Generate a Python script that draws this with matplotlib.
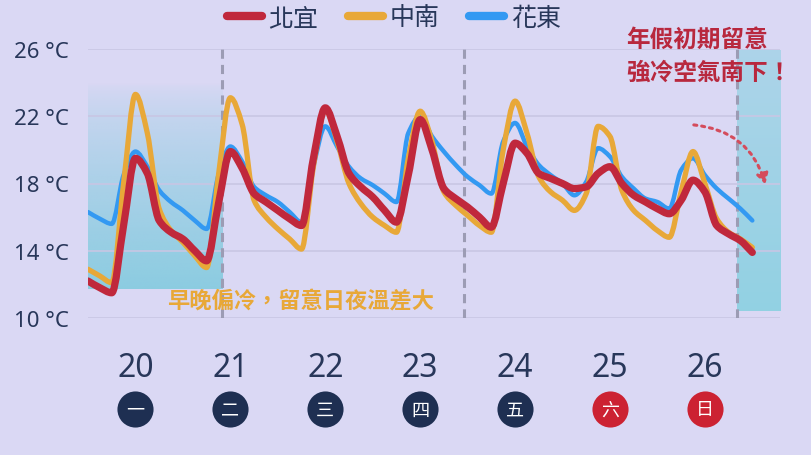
import numpy as np
import matplotlib
matplotlib.use("Agg")
import matplotlib.pyplot as plt
from matplotlib.path import Path
from matplotlib.patches import PathPatch
from matplotlib.lines import Line2D
from matplotlib.transforms import blended_transform_factory

plt.rcParams['font.family'] = ['Noto Sans CJK TC', 'DejaVu Sans']

# 3-hourly temperatures from 1/20 00:00 to 1/27 00:00
hours = np.arange(0, 169, 3)
beiyi = [12.2, 11.8, 11.5, 15.5, 19.5, 18.6, 15.8, 15.1, 14.7, 14.0, 13.4,
         16.8, 19.9, 18.9, 17.4, 16.9, 16.4, 15.9, 15.5, 19.5, 22.5, 20.8,
         18.6, 17.8, 17.2, 16.4, 15.7, 18.5, 21.8, 20.0, 17.7, 17.1, 16.6,
         16.0, 15.4, 18.0, 20.4, 19.8, 18.6, 18.3, 18.0, 17.7, 17.8, 18.6,
         19.0, 18.0, 17.3, 16.9, 16.5, 16.2, 17.0, 18.2, 17.5, 15.5, 15.0,
         14.6, 13.9]
zhongnan = [12.9, 12.5, 12.1, 18.0, 23.3, 21.0, 16.5, 15.2, 14.5, 13.7, 13.0,
            18.5, 23.1, 21.5, 17.0, 16.0, 15.3, 14.7, 14.1, 19.0, 22.4, 20.5,
            18.0, 16.8, 16.0, 15.5, 15.1, 19.5, 22.3, 20.5, 17.5, 16.7, 16.1,
            15.5, 15.1, 20.0, 22.9, 21.0, 18.4, 17.5, 17.0, 16.4, 17.4, 21.4,
            20.8, 17.6, 16.4, 15.8, 15.2, 14.8, 17.5, 19.9, 18.0, 15.9, 15.1,
            14.7, 14.2]
huadong = [16.3, 15.9, 15.6, 18.5, 19.9, 19.0, 17.6, 16.9, 16.4, 15.8, 15.3,
           18.5, 20.2, 19.3, 17.8, 17.3, 16.9, 16.3, 15.7, 19.0, 21.4, 20.2,
           19.0, 18.3, 17.9, 17.4, 16.9, 21.0, 22.0, 20.8, 19.9, 19.1, 18.4,
           17.9, 17.4, 20.5, 21.6, 20.2, 19.1, 18.5, 18.0, 17.3, 18.1, 20.1,
           19.6, 18.4, 17.7, 17.1, 16.9, 16.5, 18.8, 19.5, 18.5, 17.7, 17.1,
           16.5, 15.8]

days = ['20', '21', '22', '23', '24', '25', '26']
weekdays = ['一', '二', '三', '四', '五', '六', '日']
weekend = [False, False, False, False, False, True, True]
yticks = [10, 14, 18, 22, 26]
dividers = [34, 95.2, 164]

bg = '#dad8f4'
navy = '#28375a'
c_red = '#c0283c'
c_org = '#e8a838'
c_blue = '#3399f2'


def smooth_path(x, y):
    # monotone cubic bezier through the points (like a smoothed line series)
    x = np.asarray(x, float)
    y = np.asarray(y, float)
    h = np.diff(x)
    d = np.diff(y) / h
    m = np.zeros_like(y)
    m[0], m[-1] = d[0], d[-1]
    for i in range(1, len(y) - 1):
        if d[i - 1] * d[i] > 0:
            m[i] = 3 * (h[i - 1] + h[i]) / ((2 * h[i] + h[i - 1]) / d[i - 1]
                                             + (h[i] + 2 * h[i - 1]) / d[i])
    verts = [(x[0], y[0])]
    codes = [Path.MOVETO]
    for i in range(len(h)):
        verts += [(x[i] + h[i] / 3, y[i] + m[i] * h[i] / 3),
                  (x[i + 1] - h[i] / 3, y[i + 1] - m[i + 1] * h[i] / 3),
                  (x[i + 1], y[i + 1])]
        codes += [Path.CURVE4] * 3
    return Path(verts, codes)


fig = plt.figure(figsize=(8.12, 4.56), dpi=100)
fig.patch.set_facecolor(bg)
ax = fig.add_axes([88 / 812, 1 - 319 / 456, 692 / 812, 269 / 456])
ax.set_facecolor(bg)

# shaded blocks
grad = np.zeros((100, 2, 4))
grad[..., 0] = 0.54
grad[..., 1] = 0.80
grad[..., 2] = 0.88
grad[..., 3] = np.linspace(0, 0.95, 100)[:, None] ** 0.7
ax.imshow(grad, extent=(0, 34, 11.7, 24), origin='upper', aspect='auto',
          zorder=0.5, interpolation='bicubic')
grad2 = np.zeros((100, 2, 4))
grad2[..., 0] = 0.56
grad2[..., 1] = 0.82
grad2[..., 2] = 0.89
grad2[..., 3] = np.linspace(0.6, 0.95, 100)[:, None]
ax.imshow(grad2, extent=(164, 175, 10.4, 25.9), origin='upper', aspect='auto',
          zorder=0.5, interpolation='bicubic')
ax.set_xlim(0, 175)
ax.set_ylim(10, 26)

for sp in ax.spines.values():
    sp.set_visible(False)
ax.set_yticks(yticks)
ax.set_yticklabels([f'{t} °C' for t in yticks], fontsize=16, color=navy,
                   family=['Noto Sans', 'DejaVu Sans'])
ax.tick_params(axis='y', length=0, pad=14)
ax.set_xticks([])
ax.grid(axis='y', color='#c8c6e4', lw=1.2, zorder=0.3)
ax.set_axisbelow(True)

for d in dividers:
    ax.axvline(d, color='#9c9cb4', lw=2.2, ls=(0, (3, 2)), zorder=1)

series = [(huadong, c_blue, 3.2, 3), (zhongnan, c_org, 3.8, 4),
          (beiyi, c_red, 5.2, 5)]
for vals, col, lw, z in series:
    ax.add_patch(PathPatch(smooth_path(hours, vals), fill=False, edgecolor=col,
                           lw=lw, zorder=z, capstyle='round',
                           joinstyle='round'))

handles = [Line2D([], [], color=c_red, lw=6, solid_capstyle='round'),
           Line2D([], [], color=c_org, lw=6, solid_capstyle='round'),
           Line2D([], [], color=c_blue, lw=6, solid_capstyle='round')]
leg = fig.legend(handles, ['北宜', '中南', '花東'], loc='center',
                 bbox_to_anchor=(0.485, 0.958), ncol=3, frameon=False,
                 fontsize=18, handlelength=1.4, handletextpad=0.25,
                 columnspacing=1.2)
for t in leg.get_texts():
    t.set_color(navy)

ax.text(20, 11.05, '早晚偏冷，留意日夜溫差大', color=c_org, fontsize=16,
        fontweight='bold', va='center', ha='left', zorder=6)

fig.text(626 / 812, 1 - 40 / 456, '年假初期留意', color='#b8283e', fontsize=17,
         fontweight='bold', va='center', ha='left')
fig.text(626 / 812, 1 - 73 / 456, '強冷空氣南下！', color='#b8283e', fontsize=17,
         fontweight='bold', va='center', ha='left')

ax.annotate('', xy=(171.5, 17.8), xytext=(152.5, 21.5),
            arrowprops=dict(arrowstyle='-|>,head_length=0.6,head_width=0.35',
                            color='#d44c5c', lw=2.2, ls=(0, (1, 1.6)),
                            connectionstyle='arc3,rad=-0.35'), zorder=7)

trans = blended_transform_factory(ax.transData, ax.transAxes)
for i, (d, w, we) in enumerate(zip(days, weekdays, weekend)):
    x = 12 + 24 * i
    ax.text(x, -0.183, d, transform=trans, ha='center', va='center',
            fontsize=23, color=navy, family=['Noto Sans', 'DejaVu Sans'])
    ax.plot([x], [-0.34], marker='o', markersize=26, transform=trans,
            color='#cc2232' if we else '#1e2f52', clip_on=False, mew=0)
    ax.text(x, -0.34, w, transform=trans, ha='center', va='center',
            fontsize=13, color='white')

fig.savefig('out.png', dpi=100, facecolor=bg)
